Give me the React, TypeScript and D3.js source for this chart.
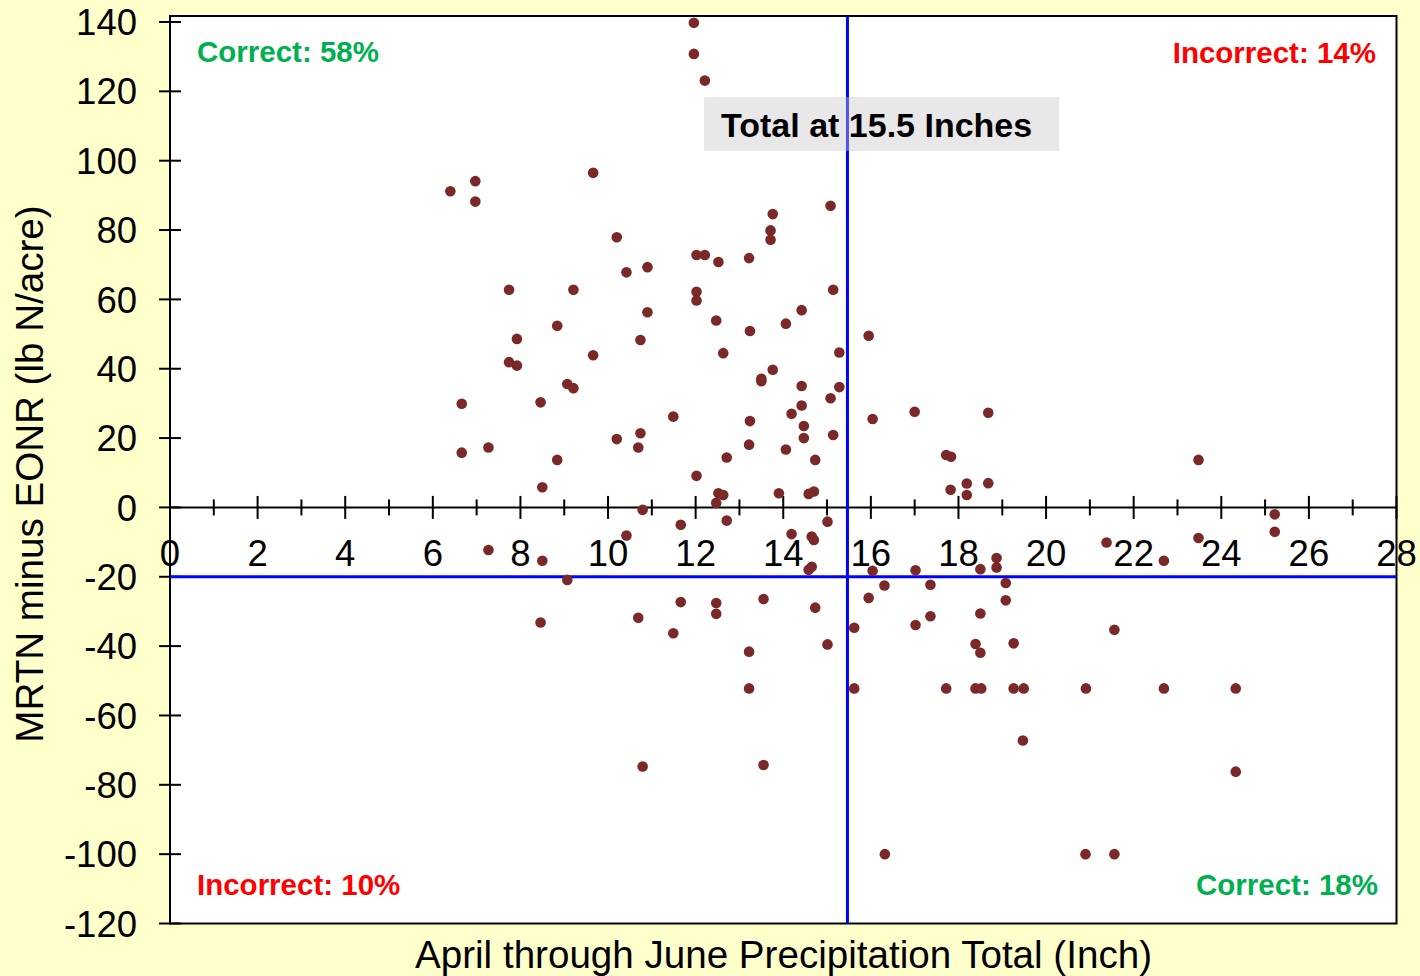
import React from "react";
import * as d3 from "d3";

// April–June precipitation total (inch) for each site-year
const precip = [
  6.40, 6.97, 6.97, 9.66, 10.20, 12.02, 12.21, 12.52, 13.22, 13.76,
  13.71, 13.71, 15.08, 10.42, 10.90, 7.74, 9.21, 12.02, 12.02, 15.14,
  10.90, 12.47, 13.24, 14.06, 14.42, 8.84, 7.92, 7.74, 7.92, 9.66,
  10.74, 12.63, 13.76, 13.50, 13.50, 14.42, 15.28, 15.28, 15.08, 14.42,
  14.19, 14.47, 14.47, 15.14, 13.24, 13.22, 11.49, 10.74, 10.69, 10.20,
  9.07, 9.21, 8.46, 6.66, 6.66, 7.27, 8.84, 12.71, 14.06, 14.73,
  12.02, 8.50, 12.52, 12.63, 12.47, 13.90, 14.58, 14.70, 10.79, 12.71,
  11.66, 15.01, 10.42, 14.19, 14.65, 14.70, 7.27, 8.50, 14.65, 14.58,
  9.07, 11.66, 12.47, 12.47, 13.55, 14.73, 10.69, 11.49, 8.46, 15.01,
  15.62, 13.22, 13.22, 15.62, 10.79, 13.55, 15.95, 16.04, 17.00, 18.68,
  17.72, 17.83, 17.82, 18.19, 18.19, 18.68, 23.48, 25.22, 25.22, 23.48,
  21.38, 22.69, 18.87, 18.87, 18.50, 16.04, 17.02, 16.31, 17.36, 19.08,
  15.95, 19.08, 17.36, 18.50, 17.02, 21.56, 18.39, 18.50, 19.26, 17.72,
  18.39, 18.52, 19.26, 19.49, 20.91, 22.69, 24.33, 19.47, 24.33, 11.96,
  11.96, 12.21, 16.32, 20.90, 21.56,
];

// MRTN minus EONR (lb N/acre) for the same site-years
const mrtnMinusEonr = [
  91.2, 94.1, 88.2, 96.5, 77.9, 72.8, 72.8, 70.8, 71.9, 84.6,
  79.9, 77.2, 87.0, 67.8, 69.3, 62.8, 62.8, 62.2, 59.7, 62.8,
  56.3, 53.9, 50.9, 53.0, 56.9, 52.4, 48.6, 41.9, 40.9, 43.9,
  48.3, 44.5, 39.7, 37.1, 36.4, 35.0, 44.7, 34.7, 31.5, 29.4,
  27.0, 23.5, 20.0, 20.9, 24.9, 18.1, 26.2, 21.4, 17.3, 19.7,
  35.6, 34.4, 30.3, 29.9, 15.8, 17.3, 13.7, 14.4, 16.7, 13.7,
  9.1, 5.8, 4.1, 3.6, 1.3, 4.1, 3.9, 4.6, -0.7, -3.8,
  -5.0, -4.1, -8.1, -7.7, -8.4, -9.4, -12.3, -15.4, -17.1, -18.0,
  -20.9, -27.3, -27.6, -30.7, -26.4, -28.9, -31.8, -36.3, -33.2, -39.5,
  -34.7, -41.6, -52.2, -52.2, -74.7, -74.3, 49.5, 25.5, 27.6, 27.3,
  15.1, 14.6, 5.1, 6.9, 3.6, 7.0, 13.7, -2.0, -7.0, -8.8,
  -10.1, -15.4, -14.6, -17.3, -17.8, -18.3, -18.1, -22.5, -22.3, -21.8,
  -26.1, -26.8, -31.4, -30.6, -33.9, -35.3, -39.4, -41.9, -39.2, -52.2,
  -52.2, -52.2, -52.2, -52.2, -52.2, -52.2, -52.2, -67.2, -76.2, 139.8,
  130.8, 123.1, -100, -100, -100,
];

const xTicks = d3.range(0, 29, 1);
const xTickLabels = d3.range(0, 29, 2);
const yTicks = d3.range(-120, 141, 20);

const thresholdPrecip = 15.5;
const thresholdDiff = -20;

const quadrantLabels = [
  { text: "Correct: 58%", color: "#00B050", corner: "tl" },
  { text: "Incorrect: 14%", color: "#FF0000", corner: "tr" },
  { text: "Incorrect: 10%", color: "#FF0000", corner: "bl" },
  { text: "Correct: 18%", color: "#00B050", corner: "br" },
];

const thresholdLabel = "Total at 15.5 Inches";
const xTitle = "April through June Precipitation Total (Inch)";
const yTitle = "MRTN minus EONR (lb N/acre)";

const W = 1420;
const H = 976;
const FONT = "'Liberation Sans', Arial, Helvetica, sans-serif";

export default function App() {
  const left = 170;
  const right = 1396.5;
  const frameTop = 16;
  const bottom = 923.5;

  const x = d3.scaleLinear().domain([0, 28]).range([left, right]);
  const y = d3.scaleLinear().domain([-120, 140]).range([bottom, 22]);

  const y0 = y(0);
  const points = precip.map((p, i) => ({ p, d: mrtnMinusEonr[i] }));

  const labelPos: Record<string, { x: number; y: number; anchor: string }> = {
    tl: { x: 197, y: 62, anchor: "start" },
    tr: { x: 1376, y: 63, anchor: "end" },
    bl: { x: 197, y: 895, anchor: "start" },
    br: { x: 1378, y: 895, anchor: "end" },
  };

  return (
    <div style={{ position: "absolute", left: 0, top: 0 }}>
      <svg width={W} height={H} style={{ display: "block" }} fontFamily={FONT}>
        <rect x={0} y={0} width={W} height={H} fill="#FFFFCC" />
        <rect
          x={left}
          y={frameTop}
          width={right - left}
          height={bottom - frameTop}
          fill="#FFFFFF"
          stroke="#000"
          strokeWidth={2}
        />

        {/* y axis ticks and labels */}
        {yTicks.map((t) => (
          <g key={`y${t}`}>
            <line x1={left - 11} x2={left + 11} y1={y(t)} y2={y(t)} stroke="#000" strokeWidth={2} />
            <text
              x={137}
              y={y(t)}
              dy="0.36em"
              textAnchor="end"
              fontSize={36.5}
              fill="#000"
            >
              {t}
            </text>
          </g>
        ))}

        {/* x axis along zero */}
        <line x1={left} x2={right} y1={y0} y2={y0} stroke="#000" strokeWidth={2} />
        {xTicks.map((t) => {
          const major = t % 2 === 0;
          const len = major ? 11.5 : 8;
          return (
            <line
              key={`xt${t}`}
              x1={x(t)}
              x2={x(t)}
              y1={y0 - len}
              y2={y0 + len}
              stroke="#000"
              strokeWidth={2}
            />
          );
        })}
        {xTickLabels.map((t) => (
          <text key={`xl${t}`} x={x(t)} y={566} textAnchor="middle" fontSize={36.5} fill="#000">
            {t}
          </text>
        ))}

        {/* threshold lines */}
        <line
          x1={x(thresholdPrecip) - 1.5}
          x2={x(thresholdPrecip) - 1.5}
          y1={frameTop + 1}
          y2={bottom}
          stroke="#0000FF"
          strokeWidth={3}
        />
        <line
          x1={left}
          x2={right}
          y1={y(thresholdDiff)}
          y2={y(thresholdDiff)}
          stroke="#0000FF"
          strokeWidth={3}
        />

        {/* site-year points */}
        {points.map((pt, i) => (
          <circle key={i} cx={x(pt.p)} cy={y(pt.d)} r={5.3} fill="#7A2828" />
        ))}

        {/* threshold annotation */}
        <rect x={704} y={97} width={355} height={54} fill="#C8C8C8" fillOpacity={0.42} />
        <text x={721} y={137} fontSize={34} fontWeight="bold" fill="#000">
          {thresholdLabel}
        </text>

        {/* quadrant labels */}
        {quadrantLabels.map((q) => {
          const pos = labelPos[q.corner];
          return (
            <text
              key={q.text}
              x={pos.x}
              y={pos.y}
              textAnchor={pos.anchor}
              fontSize={29.5}
              fontWeight="bold"
              fill={q.color}
            >
              {q.text}
            </text>
          );
        })}

        {/* axis titles */}
        <text x={783.5} y={968} textAnchor="middle" fontSize={38.6} fill="#000">
          {xTitle}
        </text>
        <text
          transform={`translate(43,474) rotate(-90)`}
          textAnchor="middle"
          fontSize={38.6}
          fill="#000"
        >
          {yTitle}
        </text>
      </svg>
    </div>
  );
}
